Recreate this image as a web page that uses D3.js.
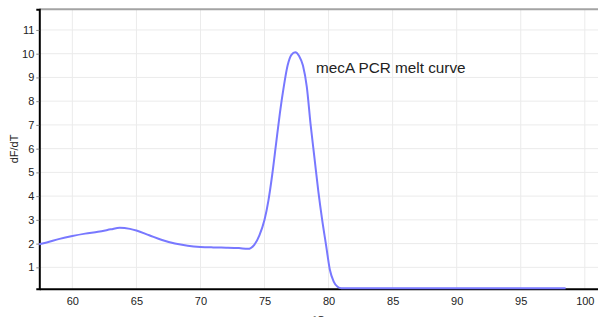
<!DOCTYPE html>
<html>
<head>
<meta charset="utf-8">
<script src="https://cdn.jsdelivr.net/npm/d3@7"></script>
<style>
  body { margin: 0; background: #fff; }
  svg { display: block; font-family: "Liberation Sans", Arial, sans-serif; }
</style>
</head>
<body>
<div id="chart"></div>
<script>
const TEMPS = [57.4, 58, 59, 60, 61, 62, 63, 63.7, 64.5, 65, 66, 67, 68, 69, 70, 71, 72, 73, 73.7,
  74.2, 74.6, 75, 75.3, 75.6, 75.9, 76.2, 76.5, 76.8, 77.1, 77.4, 77.7, 78, 78.3, 78.6, 78.9,
  79.2, 79.5, 79.8, 80.1, 80.4, 80.7, 81, 82, 85, 90, 95, 98.5]
const DFDT = [1.97, 2.05, 2.2, 2.32, 2.42, 2.5, 2.6, 2.67, 2.62, 2.55, 2.35, 2.15, 2.0, 1.91, 1.86, 1.84, 1.83, 1.81, 1.78,
  1.95, 2.35, 3.0, 3.8, 4.9, 6.2, 7.5, 8.6, 9.5, 9.95, 10.06, 9.9, 9.5, 8.6, 7.0, 5.6,
  4.2, 3.0, 1.95, 0.9, 0.4, 0.18, 0.12, 0.12, 0.12, 0.12, 0.12, 0.12]
const X_TICKS = [60, 65, 70, 75, 80, 85, 90, 95, 100]
const Y_TICKS = [1, 2, 3, 4, 5, 6, 7, 8, 9, 10, 11]
const TITLE = 'mecA PCR melt curve'

const WIDTH = 598, HEIGHT = 317
const M = { top: 9.3, right: 0, bottom: 28.3, left: 39.3 }

let svg = d3.select('#chart').append('svg')
  .attr('width', WIDTH)
  .attr('height', HEIGHT)

let x = d3.scaleLinear()
  .domain([57.42, 101.03])
  .range([M.left, WIDTH - M.right])

let y = d3.scaleLinear()
  .domain([0.1, 11.87])
  .range([HEIGHT - M.bottom, M.top])

// grid
svg.append('g')
  .selectAll('line')
  .data(X_TICKS)
  .enter().append('line')
    .attr('x1', (d) => x(d)).attr('x2', (d) => x(d))
    .attr('y1', M.top).attr('y2', HEIGHT - M.bottom)
    .attr('stroke', '#ebebeb')

svg.append('g')
  .selectAll('line')
  .data(Y_TICKS)
  .enter().append('line')
    .attr('x1', M.left).attr('x2', WIDTH)
    .attr('y1', (d) => y(d)).attr('y2', (d) => y(d))
    .attr('stroke', '#ebebeb')

// top border
svg.append('line')
  .attr('x1', M.left).attr('x2', WIDTH)
  .attr('y1', M.top).attr('y2', M.top)
  .attr('stroke', '#a3a3a3')
  .attr('stroke-width', 2)

// axes
let xAxis = svg.append('g')
  .attr('transform', 'translate(0,' + (HEIGHT - M.bottom) + ')')
  .call(d3.axisBottom(x).tickValues(X_TICKS).tickSize(0).tickPadding(9))
xAxis.select('.domain').attr('stroke', '#000').attr('stroke-width', 2)
xAxis.selectAll('text').attr('font-size', 11).attr('fill', '#222')

let yAxis = svg.append('g')
  .attr('transform', 'translate(' + M.left + ',0)')
  .call(d3.axisLeft(y).tickValues(Y_TICKS).tickSize(3).tickPadding(2))
yAxis.select('.domain').attr('stroke', '#000').attr('stroke-width', 2)
yAxis.selectAll('.tick line').attr('stroke', '#888')
yAxis.selectAll('text').attr('font-size', 11).attr('fill', '#222')

// curve
let line = d3.line()
  .x((d, i) => x(TEMPS[i]))
  .y((d) => y(d))
  .curve(d3.curveMonotoneX)

svg.append('path')
  .datum(DFDT)
  .attr('d', line)
  .attr('fill', 'none')
  .attr('stroke', '#7878ff')
  .attr('stroke-width', 2)

// labels
svg.append('text')
  .attr('transform', 'translate(18,' + ((M.top + HEIGHT - M.bottom) / 2) + ') rotate(-90)')
  .attr('text-anchor', 'middle')
  .attr('font-size', 11)
  .attr('fill', '#222')
  .text('dF/dT')

// axis title sits partly below the frame, as in the source image
svg.append('text')
  .attr('x', (M.left + WIDTH) / 2)
  .attr('y', 324)
  .attr('text-anchor', 'middle')
  .attr('font-size', 11)
  .attr('fill', '#222')
  .text('°C')

svg.append('text')
  .attr('x', 316)
  .attr('y', 73)
  .attr('font-size', 15.3)
  .attr('fill', '#222')
  .text(TITLE)
</script>
</body>
</html>
